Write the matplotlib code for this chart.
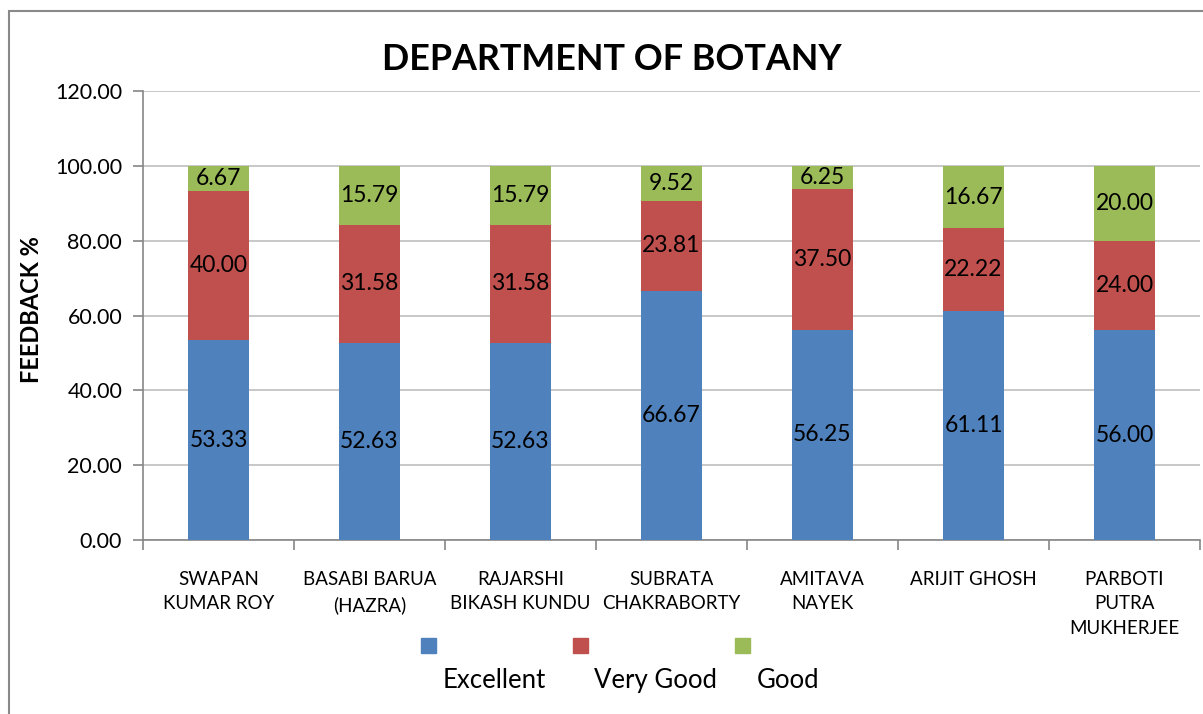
import matplotlib
matplotlib.use("Agg")
import matplotlib.pyplot as plt
from matplotlib.patches import Rectangle
import numpy as np

categories = ["SWAPAN\nKUMAR ROY", "BASABI BARUA\n(HAZRA)", "RAJARSHI\nBIKASH KUNDU",
              "SUBRATA\nCHAKRABORTY", "AMITAVA\nNAYEK", "ARIJIT GHOSH",
              "PARBOTI\nPUTRA\nMUKHERJEE"]
excellent = [53.33, 52.63, 52.63, 66.67, 56.25, 61.11, 56.00]
very_good = [40.00, 31.58, 31.58, 23.81, 37.50, 22.22, 24.00]
good = [6.67, 15.79, 15.79, 9.52, 6.25, 16.67, 20.00]
series_names = ["Excellent", "Very Good", "Good"]
colors = ["#4F81BD", "#C0504D", "#9BBB59"]
yticks = [0, 20, 40, 60, 80, 100, 120]

plt.rcParams['font.family'] = ['Lato', 'DejaVu Sans']

W, H = 1203, 714
fig = plt.figure(figsize=(W / 100, H / 100), dpi=100)
ax = fig.add_axes([143 / W, 1 - 540 / H, (1200 - 143) / W, (540 - 91) / H])

x = np.arange(len(categories))
bw = 0.41
bottom = np.zeros(len(categories))
for vals, col in zip([excellent, very_good, good], colors):
    bars = ax.bar(x, vals, bw, bottom=bottom, color=col, zorder=3)
    for b, v, bt in zip(bars, vals, bottom):
        ax.text(b.get_x() + b.get_width() / 2, bt + v / 2, f"{v:.2f}",
                ha="center", va="center", fontsize=16.5, color="black", zorder=4)
    bottom = bottom + np.array(vals)

ax.set_xlim(-0.5, len(categories) - 0.5)
ax.set_ylim(0, 120)
ax.set_yticks(yticks)
ax.set_yticklabels([f"{t:.2f}" for t in yticks], fontsize=15.5)
ax.yaxis.grid(True, color="#BFBFBF", linewidth=1.2, zorder=0)
ax.set_xticks(x)
ax.set_xticklabels(categories, fontsize=13.5, linespacing=1.55, va="top")
ax.set_xticks(np.arange(-0.5, len(categories)), minor=True)
ax.tick_params(axis="x", which="major", length=0, pad=22)
ax.tick_params(axis="x", which="minor", length=7, color="#868686", width=1.2, direction="out")
ax.tick_params(axis="y", length=7, color="#868686", width=1.2, direction="out", pad=8)
for s in ["top", "right"]:
    ax.spines[s].set_visible(False)
for s in ["left", "bottom"]:
    ax.spines[s].set_color("#868686")
    ax.spines[s].set_linewidth(1.2)

fig.text(32 / W, 1 - 310 / H, "FEEDBACK %", rotation=90, ha="center", va="center",
         fontsize=17, fontweight="bold")
fig.text(612 / W, 1 - 59 / H, "DEPARTMENT OF BOTANY", ha="center", va="center",
         fontsize=25.8, fontweight="bold")

# chart frame
fig.patches.append(Rectangle((9 / W, -0.1), 1.2, 1 - 11 / H + 0.1, transform=fig.transFigure,
                             fill=False, edgecolor="#898989", linewidth=1.5))

# legend
leg_sq_x = [421, 573, 735]
leg_txt_x = [443, 594, 757]
for sx, tx, name, col in zip(leg_sq_x, leg_txt_x, series_names, colors):
    fig.patches.append(Rectangle((sx / W, 1 - 653 / H), 15 / W, 15 / H,
                                 transform=fig.transFigure, color=col))
    fig.text(tx / W, 1 - 688 / H, name, ha="left", va="baseline", fontsize=18.5)

fig.savefig("out.png", dpi=100)
